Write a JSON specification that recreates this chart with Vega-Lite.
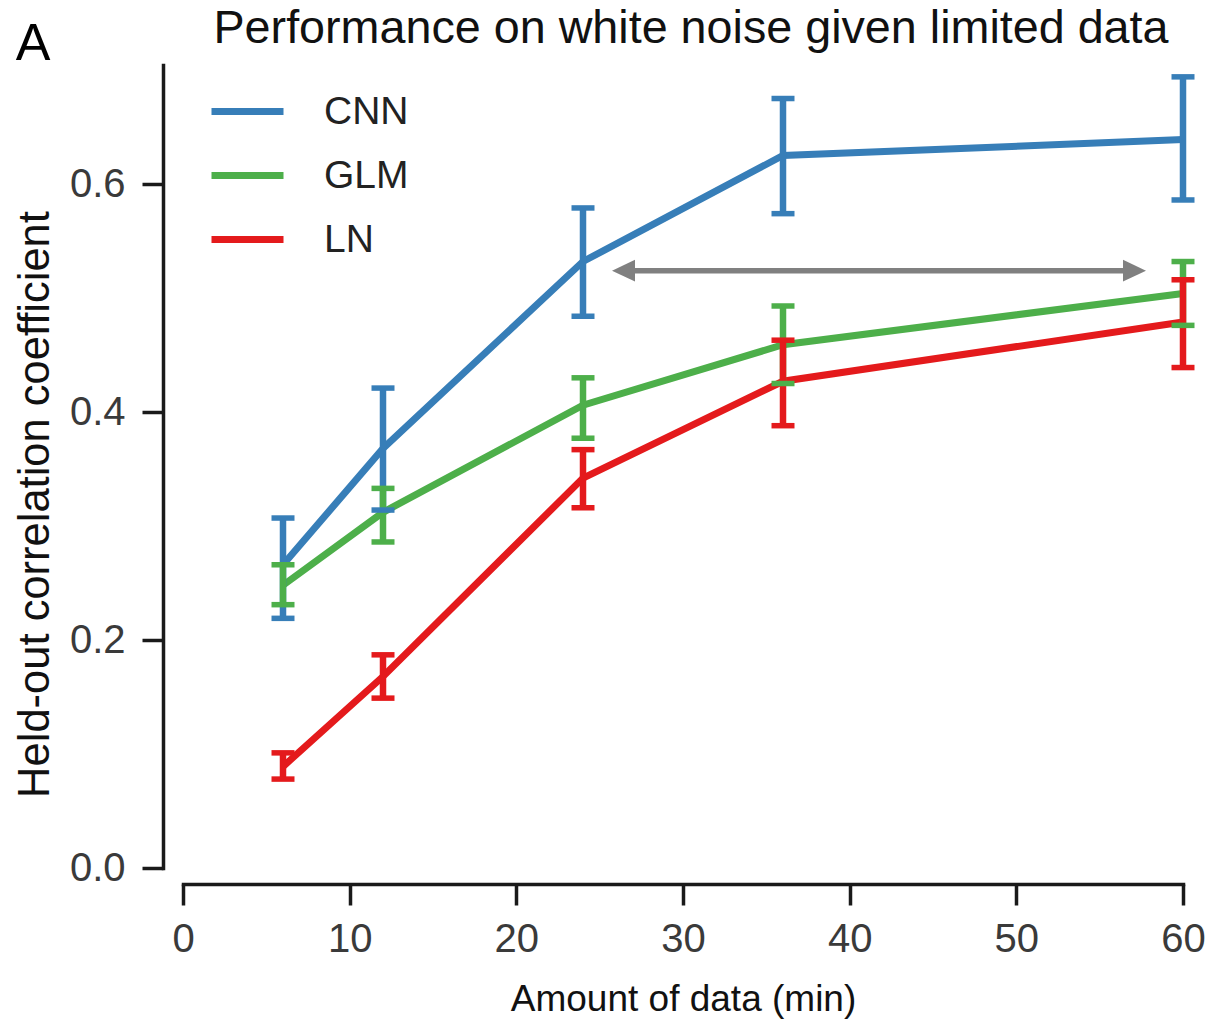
{
  "$schema": "https://vega.github.io/schema/vega-lite/v6.json",
  "width": 1000,
  "height": 803,
  "autosize": {"type": "none"},
  "padding": {"left": 183, "top": 65, "right": 24, "bottom": 156},
  "background": "white",
  "title": {
    "text": "Performance on white noise given limited data",
    "font": "Liberation Sans",
    "fontSize": 46.7,
    "fontWeight": "normal",
    "color": "#111111",
    "anchor": "middle",
    "frame": "group",
    "baseline": "alphabetic",
    "dx": 8,
    "offset": -72
  },
  "datasets": {
    "perf": [
      {"minutes": 6, "model": "CNN", "r": 0.266, "lo": 0.219, "hi": 0.307},
      {"minutes": 12, "model": "CNN", "r": 0.368, "lo": 0.314, "hi": 0.421},
      {"minutes": 24, "model": "CNN", "r": 0.532, "lo": 0.484, "hi": 0.579},
      {"minutes": 36, "model": "CNN", "r": 0.625, "lo": 0.574, "hi": 0.675},
      {"minutes": 60, "model": "CNN", "r": 0.639, "lo": 0.586, "hi": 0.694},
      {"minutes": 6, "model": "GLM", "r": 0.248, "lo": 0.231, "hi": 0.266},
      {"minutes": 12, "model": "GLM", "r": 0.312, "lo": 0.286, "hi": 0.333},
      {"minutes": 24, "model": "GLM", "r": 0.406, "lo": 0.377, "hi": 0.430},
      {"minutes": 36, "model": "GLM", "r": 0.459, "lo": 0.425, "hi": 0.493},
      {"minutes": 60, "model": "GLM", "r": 0.504, "lo": 0.476, "hi": 0.532},
      {"minutes": 6, "model": "LN", "r": 0.089, "lo": 0.078, "hi": 0.101},
      {"minutes": 12, "model": "LN", "r": 0.168, "lo": 0.149, "hi": 0.187},
      {"minutes": 24, "model": "LN", "r": 0.342, "lo": 0.316, "hi": 0.367},
      {"minutes": 36, "model": "LN", "r": 0.427, "lo": 0.388, "hi": 0.463},
      {"minutes": 60, "model": "LN", "r": 0.479, "lo": 0.439, "hi": 0.516}
    ],
    "arrow": [
      {"start": 25.74, "end": 57.78, "shaftStart": 26.9, "shaftEnd": 56.6, "r": 0.524}
    ],
    "panel": [
      {"label": "A", "minutes": -9.0, "r": 0.7088}
    ]
  },
  "config": {
    "view": {"stroke": null},
    "axis": {
      "grid": false,
      "domainColor": "#1a1a1a",
      "domainWidth": 3.5,
      "domainCap": "square",
      "tickColor": "#1a1a1a",
      "tickWidth": 3.5,
      "tickSize": 21,
      "labelFont": "Liberation Sans",
      "labelFontSize": 40,
      "labelColor": "#3a3a3a",
      "titleFont": "Liberation Sans",
      "titleFontWeight": "normal",
      "titleColor": "#111111"
    },
    "legend": {
      "labelFont": "Liberation Sans",
      "labelFontSize": 39,
      "labelColor": "#222222"
    }
  },
  "layer": [
    {
      "data": {"name": "perf"},
      "mark": {"type": "line", "strokeWidth": 7},
      "encoding": {
        "x": {
          "field": "minutes",
          "type": "quantitative",
          "scale": {"domain": [0, 60], "nice": false},
          "axis": {
            "title": "Amount of data (min)",
            "titleFontSize": 37,
            "titlePadding": 22,
            "values": [0, 10, 20, 30, 40, 50, 60],
            "offset": 16,
            "labelPadding": 14,
            "labelFlush": false
          }
        },
        "y": {
          "field": "r",
          "type": "quantitative",
          "scale": {"domain": [0, 0.7044], "nice": false, "zero": true},
          "axis": {
            "title": "Held-out correlation coefficient",
            "titleFontSize": 43.5,
            "titlePadding": 12,
            "titleY": 439,
            "values": [0, 0.2, 0.4, 0.6],
            "format": ".1f",
            "offset": 20,
            "labelPadding": 17,
            "labelFlush": false
          }
        },
        "color": {
          "field": "model",
          "type": "nominal",
          "scale": {"domain": ["CNN", "GLM", "LN"], "range": ["#377eb8", "#4daf4a", "#e41a1c"]},
          "legend": {
            "title": null,
            "orient": "none",
            "legendX": 25,
            "legendY": 7,
            "symbolType": "stroke",
            "symbolStrokeWidth": 7,
            "symbolSize": 5184,
            "symbolOpacity": 1,
            "labelOffset": 37,
            "rowPadding": 4
          }
        }
      }
    },
    {
      "data": {"name": "perf"},
      "mark": {"type": "rule", "strokeWidth": 6.5, "opacity": 1},
      "encoding": {
        "x": {"field": "minutes", "type": "quantitative"},
        "y": {"field": "lo", "type": "quantitative"},
        "y2": {"field": "hi"},
        "color": {"field": "model", "type": "nominal"}
      }
    },
    {
      "data": {"name": "perf"},
      "mark": {"type": "tick", "orient": "horizontal", "size": 23, "thickness": 5.5, "opacity": 1},
      "encoding": {
        "x": {"field": "minutes", "type": "quantitative"},
        "y": {"field": "lo", "type": "quantitative"},
        "color": {"field": "model", "type": "nominal"}
      }
    },
    {
      "data": {"name": "perf"},
      "mark": {"type": "tick", "orient": "horizontal", "size": 23, "thickness": 5.5, "opacity": 1},
      "encoding": {
        "x": {"field": "minutes", "type": "quantitative"},
        "y": {"field": "hi", "type": "quantitative"},
        "color": {"field": "model", "type": "nominal"}
      }
    },
    {
      "data": {"name": "arrow"},
      "mark": {"type": "rule", "strokeWidth": 5.5, "color": "#808080"},
      "encoding": {
        "x": {"field": "shaftStart", "type": "quantitative"},
        "x2": {"field": "shaftEnd"},
        "y": {"field": "r", "type": "quantitative"}
      }
    },
    {
      "data": {"name": "arrow"},
      "mark": {"type": "point", "shape": "M 0,0 L 2,-0.95 L 2,0.95 Z", "filled": true, "size": 529, "color": "#808080", "opacity": 1},
      "encoding": {
        "x": {"field": "start", "type": "quantitative"},
        "y": {"field": "r", "type": "quantitative"}
      }
    },
    {
      "data": {"name": "arrow"},
      "mark": {"type": "point", "shape": "M 0,0 L -2,-0.95 L -2,0.95 Z", "filled": true, "size": 529, "color": "#808080", "opacity": 1},
      "encoding": {
        "x": {"field": "end", "type": "quantitative"},
        "y": {"field": "r", "type": "quantitative"}
      }
    },
    {
      "data": {"name": "panel"},
      "mark": {"type": "text", "font": "Liberation Sans", "fontSize": 52, "align": "center", "baseline": "alphabetic", "color": "#000000"},
      "encoding": {
        "x": {"field": "minutes", "type": "quantitative"},
        "y": {"field": "r", "type": "quantitative"},
        "text": {"field": "label"}
      }
    }
  ]
}
